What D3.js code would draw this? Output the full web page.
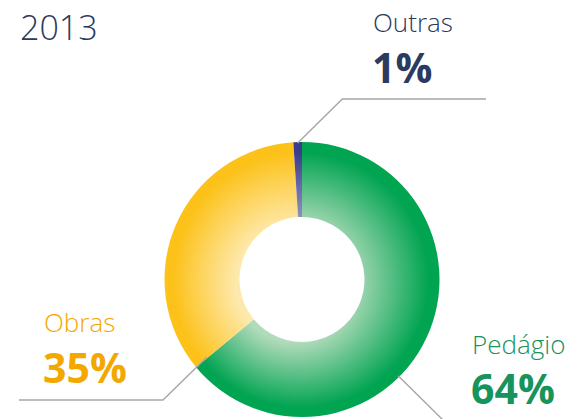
<!DOCTYPE html>
<html><head><meta charset="utf-8">
<script src="https://cdn.jsdelivr.net/npm/d3@7"></script>
<style>body{margin:0;background:#fff;overflow:hidden}svg{display:block}</style>
</head><body>
<script>
const title = "2013";
const categories = ["Pedágio", "Obras", "Outras"];
const values = [64, 35, 1];
const valueLabels = ["64%", "35%", "1%"];

const W = 579, H = 419;
const cx = 302, cy = 279.5, rOuter = 137.5, rInner = 62.5;
const colors = {
  "Pedágio": {outer: "#00a451", inner: "#b2dbbb", text: "#17935c"},
  "Obras":   {outer: "#fcc21a", inner: "#fee9ac", text: "#f3a800"},
  "Outras":  {outer: "#3b3d8c", inner: "#9a9cc9", text: "#2b3a5e"}
};
const layout = {
  "Pedágio": {a: 135, r: 136, elbow: [445, 422], end: [445, 422], tx: 472, ty1: 354, ty2: 404},
  "Obras":   {a: 230.8, r: 122.6, elbow: [163, 400], end: [19, 400], tx: 44, ty1: 332, ty2: 383},
  "Outras":  {a: 358.2, r: 136.5, elbow: [342.3, 99], end: [486, 99], tx: 373, ty1: 32, ty2: 83}
};

const svg = d3.select("body").append("svg").attr("width", W).attr("height", H);
const defs = svg.append("defs");
categories.forEach((c, i) => {
  const g = defs.append("radialGradient").attr("id", "grad" + i)
    .attr("gradientUnits", "userSpaceOnUse")
    .attr("cx", 0).attr("cy", 0).attr("r", rOuter)
    .attr("fx", -15).attr("fy", 8);
  g.append("stop").attr("offset", "0.42").attr("stop-color", colors[c].inner);
  g.append("stop").attr("offset", "0.93").attr("stop-color", colors[c].outer);
  g.append("stop").attr("offset", "1").attr("stop-color", colors[c].outer);
});

const pie = d3.pie().sort(null).value(d => d.v);
const data = categories.map((c, i) => ({c, v: values[i], label: valueLabels[i], i}));
const arcs = pie(data);
const arc = d3.arc().innerRadius(rInner).outerRadius(rOuter);

const g = svg.append("g").attr("transform", `translate(${cx},${cy})`);
g.selectAll("path").data(arcs).join("path")
  .attr("d", arc)
  .attr("fill", d => `url(#grad${d.data.i})`);

arcs.forEach(d => {
  const L = layout[d.data.c];
  const p = d3.pointRadial(L.a * Math.PI / 180, L.r);
  const pts = [[cx + p[0], cy + p[1]], L.elbow, L.end];
  svg.append("path")
    .attr("d", d3.line()(pts))
    .attr("fill", "none").attr("stroke", "#a6a6a6").attr("stroke-width", 1.4);
});

const font = "'Open Sans', 'Noto Sans', sans-serif";
svg.append("text").attr("x", 20).attr("y", 40).text(title)
  .attr("font-family", font).attr("font-size", 34).attr("font-weight", 300)
  .attr("fill", "#2b3a5e");

arcs.forEach(d => {
  const L = layout[d.data.c];
  svg.append("text").attr("x", L.tx).attr("y", L.ty1).text(d.data.c)
    .attr("font-family", font).attr("font-size", 26).attr("font-weight", 300)
    .attr("fill", colors[d.data.c].text);
  svg.append("text").attr("x", L.tx - 1).attr("y", L.ty2).text(d.data.label)
    .attr("font-family", font).attr("font-size", 41).attr("font-weight", 700)
    .attr("fill", colors[d.data.c].text);
});
</script>
</body></html>
